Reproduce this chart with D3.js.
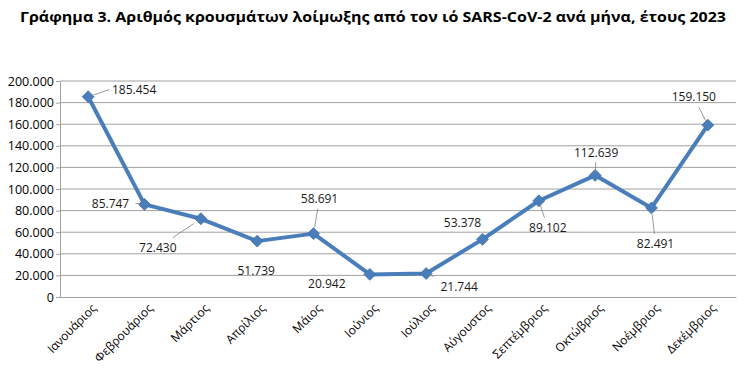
<!DOCTYPE html>
<html><head><meta charset="utf-8">
<script src="https://cdn.jsdelivr.net/npm/d3@7"></script>
<style>body{margin:0;background:#fff;} svg{display:block;}</style>
</head><body>
<svg id="c" width="747" height="379"></svg>
<script>
const title = "Γράφημα 3. Αριθμός κρουσμάτων λοίμωξης από τον ιό SARS-CoV-2 ανά μήνα, έτους 2023";
const months = ["Ιανουάριος","Φεβρουάριος","Μάρτιος","Απρίλιος","Μάιος","Ιούνιος","Ιούλιος","Αύγουστος","Σεπτέμβριος","Οκτώβριος","Νοέμβριος","Δεκέμβριος"];
const cases = [185454, 85747, 72430, 51739, 58691, 20942, 21744, 53378, 89102, 112639, 82491, 159150];
const yTicks = [0,20000,40000,60000,80000,100000,120000,140000,160000,180000,200000];
// label placement offsets (layout only): dx, dy of label center from point, leader line flag
const labelOffsets = [[46,-7,1],[-34,-1,1],[-43,29,1],[-1,30,0],[6,-35,1],[-43,9,0],[33,13,1],[-20,-17,0],[9,27,1],[1,-23,1],[4,36,1],[-14,-28,1]];

const svg = d3.select("#c");
const fmt = v => d3.format(",")(v).replace(/,/g, ".");
const x = d3.scaleBand().domain(months).range([60, 736]);
const y = d3.scaleLinear().domain([0, 200000]).range([297, 81]);

svg.append("text").attr("x", 373).attr("y", 22).attr("text-anchor","middle")
  .attr("font-family","'Open Sans', sans-serif").attr("font-weight","bold").attr("font-size",15)
  .attr("textLength",706).attr("lengthAdjust","spacingAndGlyphs").attr("fill","#000").text(title);

// gridlines
svg.append("g").selectAll("line").data(yTicks.slice(1)).join("line")
  .attr("x1",60).attr("x2",736).attr("y1",d=>y(d)).attr("y2",d=>y(d))
  .attr("stroke","#a0a0a0").attr("stroke-width",1);

// y axis
const ya = svg.append("g").attr("transform","translate(60,0)")
  .call(d3.axisLeft(y).tickValues(yTicks).tickFormat(fmt).tickSize(4).tickSizeOuter(0));
ya.select(".domain").attr("stroke","#a0a0a0");
ya.selectAll(".tick line").attr("stroke","#a0a0a0");
ya.selectAll(".tick text").attr("font-family","'Open Sans', sans-serif").attr("font-size",12.5).attr("fill","#000").attr("x",-6);

// x axis
const xa = svg.append("g").attr("transform","translate(0,297)")
  .call(d3.axisBottom(x).tickSize(0).tickSizeOuter(0));
xa.select(".domain").attr("stroke","#a0a0a0");
xa.selectAll(".tick text").attr("font-family","'Open Sans', sans-serif").attr("font-size",12).attr("fill","#000")
  .attr("text-anchor","end").attr("dy",0).attr("y",0)
  .attr("transform","translate(9,12) rotate(-45)");

const px = i => x(months[i]) + x.bandwidth()/2;

// line
svg.append("path").datum(cases)
  .attr("d", d3.line().x((d,i)=>px(i)).y(d=>y(d)))
  .attr("fill","none").attr("stroke","#4a7ebb").attr("stroke-width",4).attr("stroke-linejoin","round");

// markers
svg.append("g").selectAll("path").data(cases).join("path")
  .attr("d", d3.symbol(d3.symbolDiamond2, 90)())
  .attr("transform",(d,i)=>`translate(${px(i)},${y(d)})`)
  .attr("fill","#4a7ebb").attr("stroke","#3f6fa8").attr("stroke-width",0.8);

// leader lines + labels
const lab = svg.append("g");
cases.forEach((v,i)=>{
  const [dx,dy,lead] = labelOffsets[i];
  const cx = px(i), cy = y(v);
  const lx = cx+dx, ly = cy+dy;
  if (lead) {
    const hw = 23, hh = 7;
    let ex, ey;
    const ax = Math.abs(dx), ay = Math.abs(dy);
    if (ax/hw > ay/hh) { ex = lx - Math.sign(dx)*(hw+2); ey = ly; }
    else { ex = lx - dx*(hh+3)/ay; ey = ly - Math.sign(dy)*(hh+3); }
    const sx = cx + (ex-cx)*0.25, sy = cy + (ey-cy)*0.25;
    lab.append("line").attr("x1",sx).attr("y1",sy).attr("x2",ex).attr("y2",ey)
      .attr("stroke","#7f7f7f").attr("stroke-width",0.8);
  }
  lab.append("text").attr("x",lx).attr("y",ly).attr("dy","0.35em").attr("text-anchor","middle")
    .attr("font-family","'Open Sans', sans-serif").attr("font-size",12).attr("fill","#1a1a1a").text(fmt(v));
});
</script>
</body></html>
